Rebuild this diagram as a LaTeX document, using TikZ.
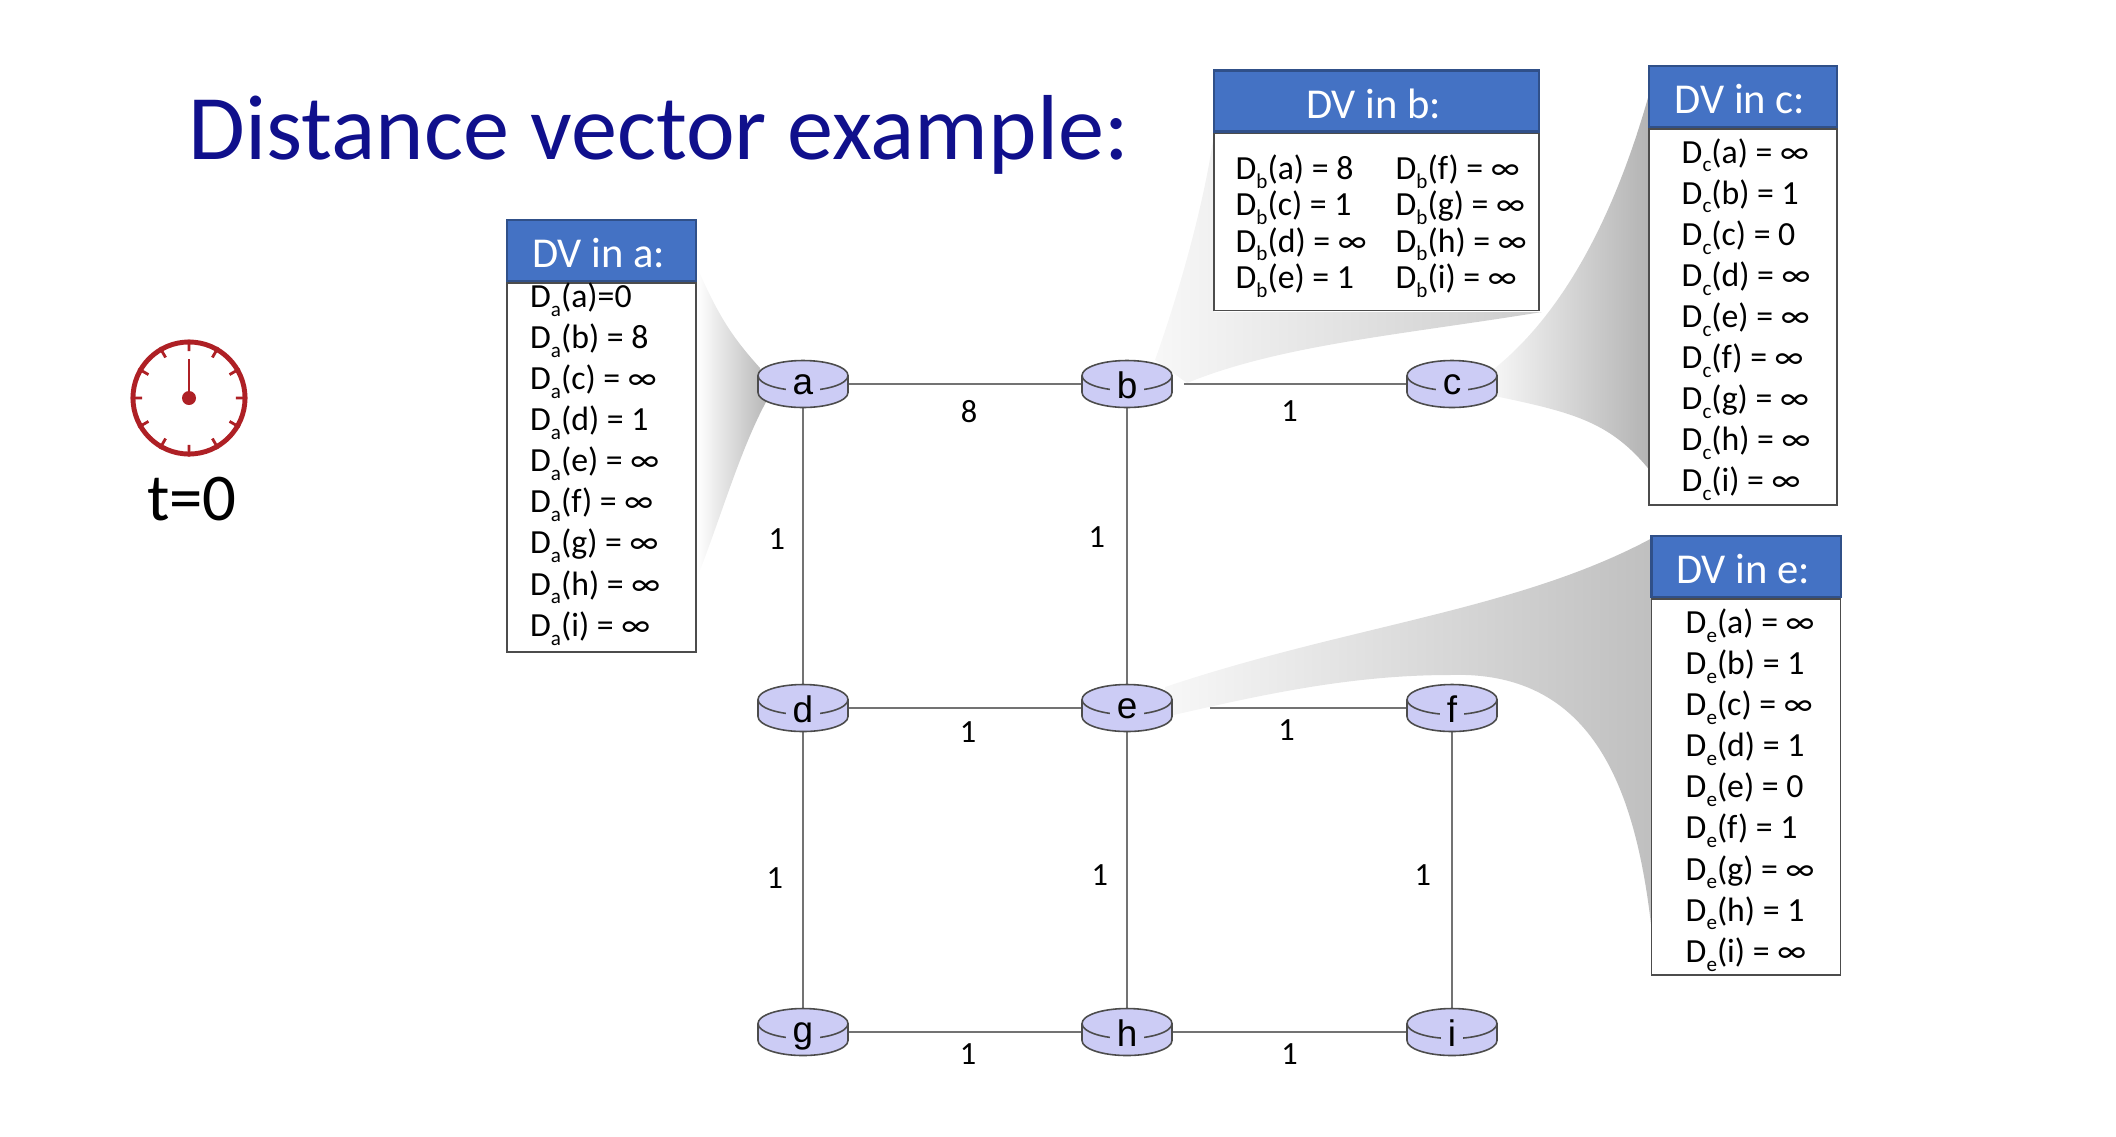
\documentclass[tikz,border=0pt]{standalone}
\usepackage{fontspec}
\setmainfont{Carlito}
\newfontfamily\routerfont{Liberation Sans}
\usetikzlibrary{calc,positioning,backgrounds}
\definecolor{dvblue}{HTML}{4472C4}
\definecolor{routerblue}{HTML}{CCCCF5}
\definecolor{clockred}{HTML}{AE2025}
\definecolor{titleblue}{HTML}{10108C}
\newcommand{\dv}[2]{D\raisebox{-0.55ex}{\fontsize{6}{6}\selectfont #1}#2}
\newcommand{\router}[3]{%
\node[routerbox] (#1) at (#2) {};
\filldraw[routerline,fill=routerblue] ($(#1)+(-45,-8.5)$) -- ++(0,17) arc (180:0:45 and 15) -- ++(0,-17) arc (0:-180:45 and 15) -- cycle;
\draw[routerline] ($(#1)+(-45,-8.5)$) arc (180:0:45 and 15);
\node[routerlabel] (#1l) at (#1) {#3};}
\begin{document}
\begin{tikzpicture}[x=0.01cm,y=-0.01cm,
every node/.style={align=center},
routerbox/.style={rectangle,minimum width=9mm,minimum height=4.7mm,inner sep=0pt},
routerline/.style={draw=black!70,line width=0.45pt},
routerlabel/.style={font=\routerfont\fontsize{10.5}{12}\selectfont,fill=routerblue,inner xsep=2pt,inner ysep=0pt,text depth=0pt,yshift=-0.1mm},
wire/.style={draw=black!55,line width=0.5pt},
weight/.style={font=\fontsize{9.2}{11}\selectfont,inner sep=0pt},
dvhead/.style={draw=dvblue!70!black,line width=0.6pt,fill=dvblue,text=white,font=\fontsize{12.1}{15}\selectfont,minimum height=6.1mm,inner sep=0pt,text height=3.4mm,text depth=0pt,execute at end node={\hspace*{0.6mm}}},
dvbody/.style={draw=black!70,line width=0.5pt,fill=white,inner sep=0pt},
dvtext/.style={anchor=west,align=left,inner sep=0pt},
dvfont/.style={font=\fontsize{9.6}{11.68}\selectfont},
funnel/.style={draw=none}]
\useasboundingbox (0,0) rectangle (2116,1136);
\node[font=\fontsize{26.25}{30}\selectfont,text=titleblue,anchor=west] (title) at (176.5,135) {Distance vector example:};
% clock
\node[circle,draw=clockred,line width=1.4pt,minimum size=11.2mm,inner sep=0pt] (clock) at (189,398) {};
\foreach \ang in {0,30,...,330}
  \draw[clockred,line width=0.8pt] (clock.\ang) -- ($(clock.center)!0.8!(clock.\ang)$);
\draw[clockred,line width=0.8pt] (clock.center) -- (189,359);
\fill[clockred] (clock.center) circle (7);
\node[font=\fontsize{19}{22}\selectfont,below=4.3mm of clock.south,anchor=center,xshift=0.3mm] (tzero) {t=0};
% routers
\router{a}{803,384}{a}
\router{b}{1127,384}{b}
\router{c}{1452,384}{c}
\router{d}{803,708}{d}
\router{e}{1127,708}{e}
\router{f}{1452,708}{f}
\router{g}{803,1032}{g}
\router{h}{1127,1032}{h}
\router{i}{1452,1032}{i}
% tables
\node[dvhead,minimum width=18.9mm] (ha) at (601.5,250.5) {DV in a:};
\node[dvbody,minimum width=18.9mm,minimum height=36.9mm,below=0pt of ha] (la) {};
\node[dvtext,dvfont] (ta) at (529.5,464) {\dv{a}{(a)=0}\\\dv{a}{(b) = 8}\\\dv{a}{(c) = ∞}\\\dv{a}{(d) = 1}\\\dv{a}{(e) = ∞}\\\dv{a}{(f) = ∞}\\\dv{a}{(g) = ∞}\\\dv{a}{(h) = ∞}\\\dv{a}{(i) = ∞}};
\node[dvhead,minimum width=32.55mm] (hb) at (1376.5,101) {DV in b:};
\node[dvbody,minimum width=32.55mm,minimum height=17.7mm,below=0pt of hb] (lb) {};
\node[dvtext,font=\fontsize{9.6}{10.35}\selectfont] (tb) at (1235,226) {\dv{b}{(a) = 8}\\\dv{b}{(c) = 1}\\\dv{b}{(d) = ∞}\\\dv{b}{(e) = 1}};
\node[dvtext,font=\fontsize{9.6}{10.35}\selectfont] (tbb) at (1395,226) {\dv{b}{(f) = ∞}\\\dv{b}{(g) = ∞}\\\dv{b}{(h) = ∞}\\\dv{b}{(i) = ∞}};
\node[dvhead,minimum width=18.75mm] (hc) at (1743,96.5) {DV in c:};
\node[dvbody,minimum width=18.75mm,minimum height=37.6mm,below=0pt of hc] (lc) {};
\node[dvtext,dvfont] (tc) at (1681,319.5) {\dv{c}{(a) = ∞}\\\dv{c}{(b) = 1}\\\dv{c}{(c) = 0}\\\dv{c}{(d) = ∞}\\\dv{c}{(e) = ∞}\\\dv{c}{(f) = ∞}\\\dv{c}{(g) = ∞}\\\dv{c}{(h) = ∞}\\\dv{c}{(i) = ∞}};
\node[dvhead,minimum width=18.9mm] (he) at (1746,566.5) {DV in e:};
\node[dvbody,minimum width=18.9mm,minimum height=37.6mm,below=0pt of he] (le) {};
\node[dvtext,dvfont] (te) at (1685,790) {\dv{e}{(a) = ∞}\\\dv{e}{(b) = 1}\\\dv{e}{(c) = ∞}\\\dv{e}{(d) = 1}\\\dv{e}{(e) = 0}\\\dv{e}{(f) = 1}\\\dv{e}{(g) = ∞}\\\dv{e}{(h) = 1}\\\dv{e}{(i) = ∞}};
\begin{scope}[on background layer]
% grey call-outs from router to table
\shade[funnel,left color=white,right color=black!28] (697,267) .. controls (720,320) and (735,340) .. (760,368) -- (766,402) .. controls (740,450) and (720,520) .. (697,578) -- cycle;
\shade[funnel,left color=black!3,right color=black!20] (1155,360) .. controls (1180,290) and (1205,200) .. (1214,133) -- (1214,312) -- (1542,312) .. controls (1400,335) and (1280,345) .. (1187,383) -- cycle;
\shade[funnel,left color=black!3,right color=black!30] (1490,372) .. controls (1570,310) and (1620,200) .. (1651,87) -- (1651,472) .. controls (1610,420) and (1570,412) .. (1490,395) -- cycle;
\shade[funnel,left color=black!3,right color=black!25] (1165,687) .. controls (1350,625) and (1520,610) .. (1654,537) -- (1654,953) .. controls (1640,800) and (1600,670) .. (1450,675) .. controls (1350,675) and (1260,695) .. (1165,717) -- cycle;
% links
\draw[wire] (a) -- node[weight,below=1.6mm,xshift=0.4mm] {8} (b);
\draw[wire,shorten <=1.1mm] (b) -- node[weight,below=1.6mm] {1} (c);
\draw[wire] (a) -- node[weight,left=1.7mm,yshift=0.7mm] {1} (d);
\draw[wire] (b) -- node[weight,left=2.1mm,yshift=0.9mm] {1} (e);
\draw[wire] (d) -- node[weight,below=1.3mm,xshift=0.3mm] {1} (e);
\draw[wire,shorten <=3.7mm] (e) -- node[weight,below=1.05mm,xshift=-0.3mm] {1} (f);
\draw[wire] (d) -- node[weight,left=1.9mm,yshift=-0.8mm] {1} (g);
\draw[wire] (e) -- node[weight,left=1.8mm,yshift=-0.55mm] {1} (h);
\draw[wire] (f) -- node[weight,left=2mm,yshift=-0.55mm] {1} (i);
\draw[wire] (g) -- node[weight,below=1.05mm,xshift=0.3mm] {1} (h);
\draw[wire] (h) -- node[weight,below=1.05mm] {1} (i);
\end{scope}
\end{tikzpicture}
\end{document}
